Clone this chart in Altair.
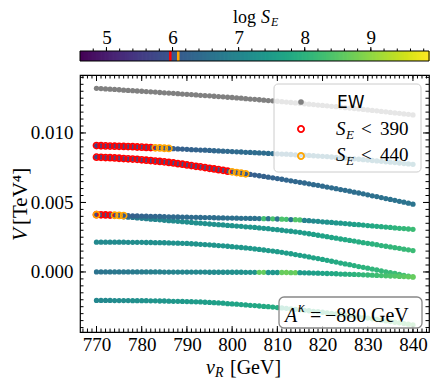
import altair as alt
import numpy as np
import pandas as pd

# ---------------- data (V in 1e-5 TeV^4, log S_E in 1e-2) ----------------
VR = list(range(770, 841))

EW_V = [1321,1319,1317,1315,1313,1311,1308,1306,1304,1302,1300,
        1298,1296,1294,1291,1289,1287,1285,1283,1280,1278,
        1276,1274,1271,1269,1267,1264,1262,1260,1257,1255,
        1252,1250,1247,1244,1242,1239,1236,1233,1231,1228,
        1225,1222,1219,1216,1213,1210,1207,1204,1201,1198,
        1195,1192,1189,1186,1182,1179,1176,1173,1169,1166,
        1162,1159,1155,1152,1148,1144,1141,1137,1134,1130]

L2_V = [909,908,907,906,905,904,903,902,901,899,898,
        896,895,893,892,890,889,887,885,884,882,
        880,879,877,876,874,872,871,869,868,866,
        864,863,861,860,858,856,855,853,852,850,
        848,847,845,843,841,840,838,836,834,832,
        830,827,824,822,819,816,814,811,808,805,
        802,799,796,793,790,787,784,780,777,774]
L2_S = [565,567,569,571,573,575,577,579,581,583,586,
        589,593,598,601,604,607,615,618,620,622,
        624,626,628,630,632,634,636,638,640,641,
        642,643,644,645,646,647,648,649,650,651,
        652,653,654,655,656,657,658,659,660,661,
        662,663,664,665,666,667,668,669,670,671,
        672,673,674,675,676,677,678,679,680,681]

L3_V = [826,825,823,822,820,818,816,814,812,810,807,
        804,801,798,795,792,788,784,779,775,770,
        765,760,756,751,746,741,736,731,725,720,
        715,711,706,702,697,692,687,682,677,672,
        667,661,656,650,645,640,634,628,623,617,
        611,605,599,593,587,581,574,568,562,555,
        548,542,535,528,522,515,508,502,495,488]
L3_S = [570,571,572,573,574,575,576,577,578,579,580,
        581,582,583,584,585,586,587,588,589,590,
        590,591,591,592,592,593,594,595,596,599,
        602,605,608,614,617,620,622,624,626,628,
        630,632,634,636,637,638,640,641,642,643,
        644,645,646,647,648,649,650,651,652,653,
        654,655,656,657,658,659,660,661,662,663]

L4_V = [412,411,410,409,408,407,406,405,404,403,402,
        401,400,400,399,398,397,396,396,395,394,
        393,393,392,391,391,390,389,389,388,388,
        387,386,386,385,385,384,383,383,382,381,
        380,379,377,376,374,371,369,366,364,361,
        358,356,353,351,348,345,342,340,337,334,
        331,328,326,323,320,317,314,312,309,307]
L4_S = [590,592,594,596,599,602,606,615,620,624,627,
        630,632,634,636,638,640,641,642,643,644,
        645,646,647,648,649,650,651,652,653,654,
        655,656,657,658,659,660,830,660,835,662,
        840,832,663,845,838,690,700,708,715,720,
        726,731,736,741,746,751,756,761,766,771,
        776,781,786,791,796,801,806,811,815,820]

L5_V = [412,410,407,405,402,400,397,394,392,389,386,
        383,380,378,375,372,369,367,364,362,359,
        356,353,351,348,345,343,340,338,335,333,
        330,328,325,323,320,317,314,311,307,304,
        300,296,293,289,285,280,275,270,264,259,
        254,248,243,237,232,227,222,216,211,206,
        201,196,190,185,180,175,170,164,159,154]
L5_S = [603,640,645,650,655,660,665,670,675,680,685,
        690,695,700,703,706,709,712,714,716,718,
        720,721,722,723,724,725,726,727,728,729,
        730,731,732,733,734,735,736,737,738,739,
        740,742,744,746,748,751,754,757,760,763,
        766,769,772,775,778,781,784,787,790,793,
        796,799,802,805,808,811,813,815,817,820]

L6_V = [214,214,214,214,214,214,214,213,213,213,213,
        212,212,211,211,210,209,208,207,206,205,
        203,201,199,197,195,193,190,188,185,182,
        179,176,173,170,166,162,158,154,150,146,
        141,136,131,125,120,114,108,102,96,90,
        84,77,71,64,58,52,46,39,33,27,
        21,14,8,1,-5,-11,-17,-24,-30,-36]
L6_S = [708,709,710,711,712,713,714,715,716,717,718,
        719,720,721,722,723,724,725,726,727,728,
        729,730,731,732,733,734,735,736,737,738,
        739,740,741,742,743,744,745,746,747,748,
        750,752,754,756,758,760,763,766,769,772,
        775,778,781,784,787,790,793,796,799,802,
        805,808,811,814,817,820,823,826,829,832]

L7_V = [0,0,0,0,0,0,0,0,0,0,0,
        0,0,0,0,-1,-1,-1,-1,-1,-1,
        -1,-1,-1,-1,-2,-2,-2,-2,-2,-2,
        -2,-2,-3,-3,-3,-3,-3,-4,-4,-4,
        -4,-4,-5,-5,-5,-6,-7,-8,-9,-10,
        -11,-12,-13,-15,-16,-17,-18,-19,-21,-22,
        -23,-25,-26,-28,-29,-30,-32,-33,-35,-36]
L7_S = [660,662,664,666,668,670,672,674,676,678,680,
        682,684,686,688,690,692,694,696,698,700,
        702,704,706,708,710,712,714,716,718,720,
        722,724,726,728,730,860,865,735,737,740,
        865,870,860,868,745,748,752,756,760,765,
        770,775,780,785,790,795,800,805,810,815,
        820,825,830,835,840,845,850,855,860,865]

L8_V = [-205,-205,-205,-205,-206,-206,-206,-206,-207,-207,-207,
        -207,-208,-208,-209,-209,-210,-211,-211,-212,-213,
        -214,-215,-216,-218,-219,-221,-223,-225,-228,-230,
        -232,-235,-237,-240,-242,-245,-248,-250,-253,-256,
        -259,-262,-266,-269,-272,-276,-279,-283,-286,-290,
        -294,-298,-302,-306,-310,-315,-319,-323,-328,-332,
        -337,-342,-347,-352,-357,-362,-366,-371,-376,-381]
L8_S = [705,707,709,711,713,715,717,719,721,723,725,
        727,729,731,733,735,737,739,741,743,745,
        747,749,751,753,755,757,759,761,763,765,
        767,769,771,773,775,777,779,781,783,785,
        788,791,794,797,800,802,804,806,808,810,
        812,814,816,818,820,822,824,826,828,830,
        832,834,836,838,840,842,844,846,848,850]

X_MAJOR = [770, 780, 790, 800, 810, 820, 830, 840]
Y_MAJOR = [0.0, 0.005, 0.010]
CB_MAJOR = [5, 6, 7, 8, 9]
LN390, LN440 = np.log(390.0), np.log(440.0)

# ---------------- tables ----------------
for arr in [EW_V, L2_V, L2_S, L3_V, L3_S, L4_V, L4_S, L5_V, L5_S, L6_V, L6_S, L7_V, L7_S, L8_V, L8_S]:
    assert len(arr) == len(VR), len(arr)

ew = pd.DataFrame({"v": VR, "V": np.array(EW_V) * 1e-5})
frames = []
for name, Vs, Ss in [("a", L2_V, L2_S), ("b", L3_V, L3_S), ("d", L5_V, L5_S), ("c", L4_V, L4_S),
                     ("e", L6_V, L6_S), ("f", L7_V, L7_S), ("g", L8_V, L8_S)]:
    frames.append(pd.DataFrame({"v": VR, "V": np.array(Vs) * 1e-5, "S": np.array(Ss) * 1e-2, "line": name}))
pts = pd.concat(frames, ignore_index=True)

# page origin of the plot area
OX, OY = 80, 75
W, H = 349, 257
X_SCALE = alt.Scale(domain=[766.35, 843.55], nice=False, zero=False)
Y_SCALE = alt.Scale(domain=[-0.00432, 0.01417], nice=False, zero=False)
C_SCALE = alt.Scale(scheme="viridis", domain=[4.6, 9.88])
CB_SCALE = alt.Scale(domain=[4.6, 9.88], nice=False, zero=False)
SERIF = "Liberation Serif"

X_AX = alt.Axis(values=X_MAJOR, format="d", title=None, grid=False, domain=False, ticks=True, tickSize=0,
                labelPadding=18, labelBaseline="alphabetic", labelFont=SERIF, labelFontSize=19,
                labelColor="black", labelFlush=False)
Y_AX = alt.Axis(values=Y_MAJOR, format=".3f", title=None, grid=False, domain=False, ticks=True, tickSize=0,
                labelPadding=7, labelBaseline="middle", labelFont=SERIF, labelFontSize=19,
                labelColor="black", labelFlush=False)
CB_AX = alt.Axis(orient="top", offset=24, values=CB_MAJOR, format="d", title=None, grid=False, domain=False,
                 ticks=True, tickSize=0, labelPadding=8, labelBaseline="alphabetic", labelFont=SERIF,
                 labelFontSize=19, labelColor="black", labelFlush=False)

X = alt.X("v:Q", scale=X_SCALE, axis=X_AX)
Y = alt.Y("V:Q", scale=Y_SCALE, axis=Y_AX)
ONE = pd.DataFrame({"k": [0]})


def txt(s, px, py, size=19, italic=False, font=SERIF, angle=0):
    kw = dict(text=s, font=font, fontSize=size, align="left", baseline="alphabetic", color="black")
    if italic:
        kw["fontStyle"] = "italic"
    if angle:
        kw["angle"] = angle
    return alt.Chart(ONE).mark_text(**kw).encode(x=alt.value(px - OX), y=alt.value(py - OY))


def box(x0, x1, y0, y1, **kw):
    return alt.Chart(ONE).mark_rect(**kw).encode(
        x=alt.value(x0 - OX), x2=alt.value(x1 - OX), y=alt.value(y0 - OY), y2=alt.value(y1 - OY))


layers = []
layers.append(alt.Chart(ew).mark_circle(size=28, color="#808080", opacity=1).encode(x=X, y=Y))
layers.append(alt.Chart(pts).mark_circle(size=28, opacity=1).encode(
    x=X, y=Y, color=alt.Color("S:Q", scale=C_SCALE, legend=None)))
layers.append(alt.Chart(pts).transform_filter(f"datum.S < {LN390}").mark_point(
    shape="circle", filled=False, color="#ff0000", size=38, strokeWidth=1.6, opacity=1).encode(x=X, y=Y))
layers.append(alt.Chart(pts).transform_filter(f"datum.S >= {LN390} && datum.S < {LN440}").mark_point(
    shape="circle", filled=False, color="#ffa500", size=38, strokeWidth=1.6, opacity=1).encode(x=X, y=Y))

# inward ticks on all four sides
xmaj = pd.DataFrame({"v": X_MAJOR})
xmin = pd.DataFrame({"v": list(range(767, 844))})
ymaj = pd.DataFrame({"V": Y_MAJOR})
ymin = pd.DataFrame({"V": [i * 0.0005 for i in range(-8, 29)]})
for d, L in [(xmaj, 6), (xmin, 3.5)]:
    layers.append(alt.Chart(d).mark_rule(color="black", strokeWidth=1).encode(x=X, y=alt.value(H), y2=alt.value(H - L)))
    layers.append(alt.Chart(d).mark_rule(color="black", strokeWidth=1).encode(x=X, y=alt.value(0), y2=alt.value(L)))
for d, L in [(ymaj, 6), (ymin, 3.5)]:
    layers.append(alt.Chart(d).mark_rule(color="black", strokeWidth=1).encode(y=Y, x=alt.value(0), x2=alt.value(L)))
    layers.append(alt.Chart(d).mark_rule(color="black", strokeWidth=1).encode(y=Y, x=alt.value(W), x2=alt.value(W - L)))

# legend
layers.append(box(274, 421, 84, 172, cornerRadius=4, fill="white", fillOpacity=0.8, stroke="#cccccc",
                  strokeWidth=1))
layers.append(alt.Chart(ONE).mark_circle(size=32, color="#808080", opacity=1).encode(
    x=alt.value(301 - OX), y=alt.value(102 - OY)))
layers.append(alt.Chart(ONE).mark_point(shape="circle", filled=False, color="#ff0000", size=38, strokeWidth=1.8,
                                        opacity=1).encode(x=alt.value(301 - OX), y=alt.value(129 - OY)))
layers.append(alt.Chart(ONE).mark_point(shape="circle", filled=False, color="#ffa500", size=38, strokeWidth=1.8,
                                        opacity=1).encode(x=alt.value(301 - OX), y=alt.value(156 - OY)))
layers.append(txt("EW", 337, 108, size=17, font="DejaVu Sans"))
for base, num in [(135, "390"), (161, "440")]:
    layers.append(txt("S", 336, base, italic=True))
    layers.append(txt("E", 346, base + 4, size=13, italic=True))
    layers.append(txt("<", 361, base))
    layers.append(txt(num, 380, base))

# annotation box
layers.append(box(279, 422, 297, 328, cornerRadius=5, fill="white", fillOpacity=0.8, stroke="#888888",
                  strokeWidth=1.3))
layers.append(txt("A", 285, 322, size=20, italic=True))
layers.append(txt("κ", 298, 312, size=14, italic=True))
layers.append(txt("=", 310, 322, size=20))
layers.append(txt("−880", 325, 322, size=20))
layers.append(txt("GeV", 371, 322, size=20))

# axis titles
layers.append(txt("v", 206, 374, size=20, italic=True))
layers.append(txt("R", 215, 377, size=14, italic=True))
layers.append(txt("[GeV]", 230, 374, size=20))
layers.append(txt("V", 27, 241, size=21, italic=True, angle=270))
layers.append(txt("[TeV⁴]", 27, 225, size=21, angle=270))

# colorbar title
layers.append(txt("log", 233, 23, size=18))
layers.append(txt("S", 261, 23, size=18, italic=True))
layers.append(txt("E", 271, 26, size=12, italic=True))

main = alt.layer(*layers)

# ---------------- colorbar ----------------
edges = np.linspace(4.6, 9.88, 265)
cbdf = pd.DataFrame({"c0": edges[:-1], "c1": edges[:-1] + 1.6 * (edges[1] - edges[0]),
                     "cm": (edges[:-1] + edges[1:]) / 2})
CBX = alt.X("c0:Q", scale=CB_SCALE, axis=CB_AX)
cb_layers = [
    alt.Chart(cbdf).mark_rect().encode(x=CBX, x2="c1:Q", y=alt.value(-24), y2=alt.value(-14),
                                       color=alt.Color("cm:Q", scale=C_SCALE, legend=None)),
]
cbmaj = pd.DataFrame({"c0": CB_MAJOR})
cbmin = pd.DataFrame({"c0": [i * 0.2 for i in range(24, 50)]})
cb_layers.append(alt.Chart(cbmaj).mark_rule(color="black", strokeWidth=1).encode(
    x=CBX, y=alt.value(-24), y2=alt.value(-28)))
cb_layers.append(alt.Chart(cbmin).mark_rule(color="black", strokeWidth=1).encode(
    x=CBX, y=alt.value(-24), y2=alt.value(-26.5)))
cb_layers.append(alt.Chart(pd.DataFrame({"c0": [LN390]})).mark_rule(color="#ff0000", strokeWidth=2.5).encode(
    x=CBX, y=alt.value(-24), y2=alt.value(-14)))
cb_layers.append(alt.Chart(pd.DataFrame({"c0": [LN440]})).mark_rule(color="#ffa500", strokeWidth=2.5).encode(
    x=CBX, y=alt.value(-24), y2=alt.value(-14)))
cb_layers.append(alt.Chart(ONE).mark_rect(fillOpacity=0, stroke="black", strokeWidth=1).encode(
    x=alt.value(0), x2=alt.value(W), y=alt.value(-24), y2=alt.value(-14)))
cbar = alt.layer(*cb_layers)

chart = alt.layer(main, cbar).resolve_scale(x="independent").properties(
    width=W, height=H,
    padding={"left": OX - 8, "top": OY - 8, "right": 1, "bottom": 49},
    autosize=alt.AutoSizeParams(type="none"),
    background="white",
).configure_view(stroke="black", strokeWidth=1.2)

chart.save("out.html", embed_options={"renderer": "svg", "actions": False})
